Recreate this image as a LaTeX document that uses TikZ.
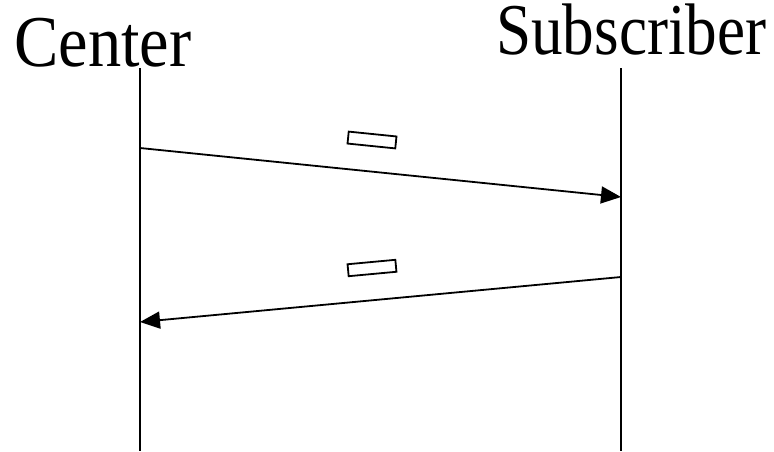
\documentclass[tikz,border=0pt]{standalone}
\usepackage{fontspec}
\setmainfont{Liberation Serif}
\usetikzlibrary{arrows.meta}
\begin{document}
\begin{tikzpicture}[x=1pt,y=-1pt,
  life/.style={line width=1.6pt},
  msg/.style={line width=1.8pt,-{Triangle[length=20pt,width=17pt]}},
  tag/.style={draw,line width=1.8pt,minimum width=48pt,minimum height=12pt,inner sep=0pt},
  head/.style={inner sep=0pt,anchor=base west,font=\fontsize{73}{80}\selectfont}]
\useasboundingbox (0,0) rectangle (774,451);
\node[head] (c) at (14,66) {\scalebox{0.91}[1]{Center}};
\node[head] (s) at (496,54) {\scalebox{0.865}[1]{Subscriber}};
\coordinate (ct) at (140,68);
\coordinate (cb) at (140,451);
\coordinate (st) at (621,68);
\coordinate (sb) at (621,451);
\draw[life] (ct) -- (cb);
\draw[life] (st) -- (sb);
\coordinate (a1) at (140,148);
\coordinate (b1) at (621,197);
\coordinate (a2) at (621,277);
\coordinate (b2) at (140,322);
\draw[msg] (a1) -- (b1);
\draw[msg] (a2) -- (b2);
\node[tag,rotate=-5.8] (r1) at (372,140) {};
\node[tag,rotate=5.3] (r2) at (372,268) {};
\end{tikzpicture}
\end{document}
